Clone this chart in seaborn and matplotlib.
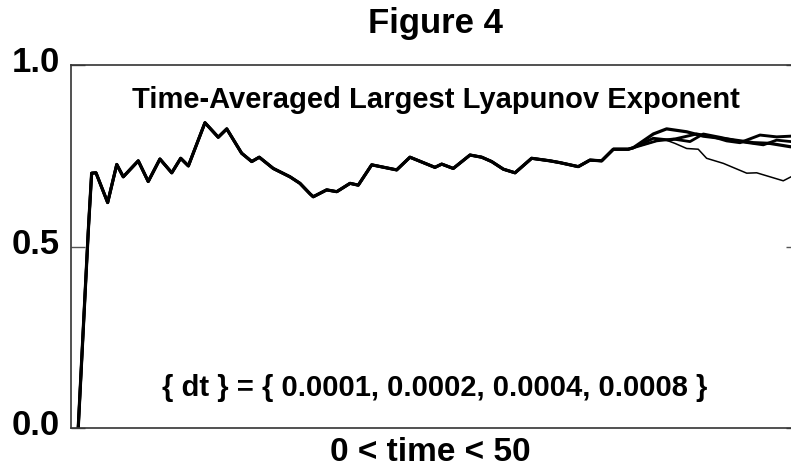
import matplotlib
matplotlib.use("Agg")
import matplotlib.pyplot as plt
import matplotlib.transforms as mtransforms
import seaborn as sns
import pandas as pd

# values (time, largest Lyapunov exponent)
common_t = [0.0, 0.70, 0.93, 1.23, 2.04, 2.67, 3.12, 4.16, 4.85, 5.66, 6.48, 7.10, 7.63,
            8.78, 9.70, 10.29, 11.32, 12.02, 12.54, 13.51, 14.67, 15.36, 16.06, 16.28,
            17.21, 17.91, 18.83, 19.40, 20.33, 22.06, 22.98, 24.71, 25.18, 25.98, 27.14,
            27.95, 28.64, 29.45, 30.26, 31.41, 32.68, 33.37, 34.64, 35.45, 36.26, 37.07,
            38.10, 38.45]
common_v = [0.0, 0.545, 0.702, 0.703, 0.621, 0.726, 0.692, 0.736, 0.679, 0.741, 0.703,
            0.743, 0.722, 0.841, 0.801, 0.824, 0.757, 0.734, 0.746, 0.715, 0.692, 0.674,
            0.645, 0.637, 0.656, 0.651, 0.674, 0.669, 0.725, 0.711, 0.746, 0.718, 0.727,
            0.715, 0.752, 0.746, 0.734, 0.713, 0.703, 0.743, 0.736, 0.731, 0.720, 0.738,
            0.736, 0.768, 0.768, 0.772]

dt_labels = ["0.0001", "0.0002", "0.0004", "0.0008"]

tail_t_1 = [39.84, 40.76, 42.15, 43.30, 45.15, 46.76, 47.92, 49.31, 50.0]
tail_v_1 = [0.810, 0.824, 0.816, 0.804, 0.795, 0.786, 0.784, 0.775, 0.773]

tail_t_2 = [39.84, 40.99, 42.84, 43.99, 44.92, 45.84, 47.23, 48.38, 49.38, 50.0]
tail_v_2 = [0.798, 0.793, 0.810, 0.802, 0.791, 0.786, 0.807, 0.802, 0.804, 0.803]

tail_t_3 = [40.07, 41.22, 42.38, 43.30, 44.46, 45.84, 47.46, 48.38, 49.38, 50.0]
tail_v_3 = [0.791, 0.796, 0.789, 0.810, 0.801, 0.789, 0.780, 0.793, 0.789, 0.790]

tail_t_4 = [40.53, 41.34, 42.15, 42.95, 43.53, 44.69, 46.31, 47.00, 48.84, 49.38, 50.0]
tail_v_4 = [0.796, 0.784, 0.770, 0.768, 0.743, 0.729, 0.702, 0.703, 0.681, 0.692, 0.698]

tails = [(tail_t_1, tail_v_1), (tail_t_2, tail_v_2), (tail_t_3, tail_v_3), (tail_t_4, tail_v_4)]
line_widths = [2.3, 2.1, 2.0, 1.1]

sns.set_style("white")
plt.rcParams["font.family"] = ["Liberation Sans", "DejaVu Sans"]
plt.rcParams["font.weight"] = "bold"
plt.rcParams["text.color"] = "black"
plt.rcParams["axes.labelcolor"] = "black"

W, H = 791, 471
fig = plt.figure(figsize=(W / 100, H / 100), dpi=100)
ax = fig.add_axes([71 / W, 43 / H, 729 / W, 363 / H])

for lab, (tt, tv), lw in zip(dt_labels, tails, line_widths):
    df = pd.DataFrame({"time": common_t + tt, "lyap": common_v + tv})
    sns.lineplot(data=df, x="time", y="lyap", ax=ax, color="black", linewidth=lw,
                 sort=False, estimator=None, solid_joinstyle="round", solid_capstyle="round")

ax.set_xlim(-0.5, 50)
ax.set_ylim(0, 1)
ax.set_xticks([])
ax.set_yticks([0.0, 0.5, 1.0])
ax.set_yticklabels(["0.0", "0.5", "1.0"], fontsize=25, fontweight="bold")
ax.tick_params(axis="y", direction="in", length=10, width=1, color="#555555",
               labelcolor="black", left=True, right=True, pad=8)
offset = mtransforms.ScaledTranslation(0, 4 / 72, fig.dpi_scale_trans)
for lbl in ax.get_yticklabels():
    lbl.set_transform(lbl.get_transform() + offset)

for side in ["left", "right", "top", "bottom"]:
    ax.spines[side].set_color("#333333")
    ax.spines[side].set_linewidth(1.2)

ax.set_ylabel("")
ax.set_xlabel("0 < time < 50", fontsize=24, fontweight="bold", va="baseline")
ax.xaxis.set_label_coords(0.493, -0.091)
ax.set_title("Figure 4", fontsize=25, fontweight="bold", y=1.088, pad=0, va="baseline")

ax.text(0.5, 0.881, "Time-Averaged Largest Lyapunov Exponent", transform=ax.transAxes,
        ha="center", va="baseline", fontsize=21, fontweight="bold")
ax.text(0.499, 0.088, "{ dt } = { " + ", ".join(dt_labels) + " }", transform=ax.transAxes,
        ha="center", va="baseline", fontsize=21, fontweight="bold")

fig.savefig("out.png", dpi=100)
